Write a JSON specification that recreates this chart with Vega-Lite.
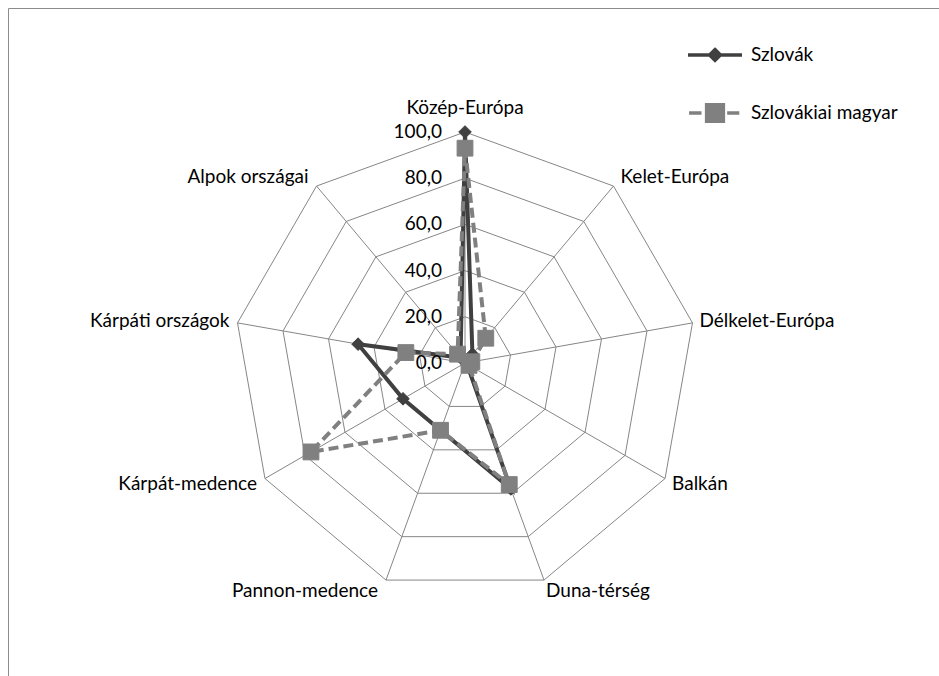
{
  "$schema": "https://vega.github.io/schema/vega-lite/v6.json",
  "width": 933,
  "height": 670,
  "autosize": {"type": "none"},
  "padding": {"left": 8, "top": 8, "right": -2, "bottom": -2},
  "background": "white",
  "config": {
    "view": {"stroke": "#8c8c8c", "strokeWidth": 1},
    "font": "Lato",
    "locale": {"number": {"decimal": ",", "thousands": " ", "grouping": [3], "currency": ["", ""]}},
    "legend": {"symbolStrokeWidth": 3.5}
  },
  "datasets": {
    "cats": [
      {"cat": "Közép-Európa", "i": 0},
      {"cat": "Kelet-Európa", "i": 1},
      {"cat": "Délkelet-Európa", "i": 2},
      {"cat": "Balkán", "i": 3},
      {"cat": "Duna-térség", "i": 4},
      {"cat": "Pannon-medence", "i": 5},
      {"cat": "Kárpát-medence", "i": 6},
      {"cat": "Kárpáti országok", "i": 7},
      {"cat": "Alpok országai", "i": 8}
    ],
    "scores": [
      {"cat": "Közép-Európa", "i": 0, "Szlovák": 100, "Szlovákiai magyar": 93},
      {"cat": "Kelet-Európa", "i": 1, "Szlovák": 5, "Szlovákiai magyar": 14},
      {"cat": "Délkelet-Európa", "i": 2, "Szlovák": 2, "Szlovákiai magyar": 3},
      {"cat": "Balkán", "i": 3, "Szlovák": 1, "Szlovákiai magyar": 2},
      {"cat": "Duna-térség", "i": 4, "Szlovák": 58, "Szlovákiai magyar": 56},
      {"cat": "Pannon-medence", "i": 5, "Szlovák": 31, "Szlovákiai magyar": 31},
      {"cat": "Kárpát-medence", "i": 6, "Szlovák": 31, "Szlovákiai magyar": 77},
      {"cat": "Kárpáti országok", "i": 7, "Szlovák": 47, "Szlovákiai magyar": 26},
      {"cat": "Alpok országai", "i": 8, "Szlovák": 3, "Szlovákiai magyar": 5}
    ],
    "grid": [
      {"ring": 20, "i": 0}, {"ring": 20, "i": 1}, {"ring": 20, "i": 2}, {"ring": 20, "i": 3}, {"ring": 20, "i": 4}, {"ring": 20, "i": 5}, {"ring": 20, "i": 6}, {"ring": 20, "i": 7}, {"ring": 20, "i": 8},
      {"ring": 40, "i": 0}, {"ring": 40, "i": 1}, {"ring": 40, "i": 2}, {"ring": 40, "i": 3}, {"ring": 40, "i": 4}, {"ring": 40, "i": 5}, {"ring": 40, "i": 6}, {"ring": 40, "i": 7}, {"ring": 40, "i": 8},
      {"ring": 60, "i": 0}, {"ring": 60, "i": 1}, {"ring": 60, "i": 2}, {"ring": 60, "i": 3}, {"ring": 60, "i": 4}, {"ring": 60, "i": 5}, {"ring": 60, "i": 6}, {"ring": 60, "i": 7}, {"ring": 60, "i": 8},
      {"ring": 80, "i": 0}, {"ring": 80, "i": 1}, {"ring": 80, "i": 2}, {"ring": 80, "i": 3}, {"ring": 80, "i": 4}, {"ring": 80, "i": 5}, {"ring": 80, "i": 6}, {"ring": 80, "i": 7}, {"ring": 80, "i": 8},
      {"ring": 100, "i": 0}, {"ring": 100, "i": 1}, {"ring": 100, "i": 2}, {"ring": 100, "i": 3}, {"ring": 100, "i": 4}, {"ring": 100, "i": 5}, {"ring": 100, "i": 6}, {"ring": 100, "i": 7}, {"ring": 100, "i": 8}
    ],
    "ticks": [{"v": 0}, {"v": 20}, {"v": 40}, {"v": 60}, {"v": 80}, {"v": 100}]
  },
  "layer": [
    {
      "data": {"name": "grid"},
      "transform": [
        {"calculate": "datum.i*2*PI/9", "as": "a"},
        {"calculate": "datum.ring*sin(datum.a)", "as": "x"},
        {"calculate": "datum.ring*cos(datum.a)", "as": "y"}
      ],
      "mark": {"type": "line", "interpolate": "linear-closed", "stroke": "#868686", "strokeWidth": 1},
      "encoding": {
        "x": {"field": "x", "type": "quantitative", "scale": {"domain": [-197.84, 206.06], "nice": false, "zero": false}, "axis": null},
        "y": {"field": "y", "type": "quantitative", "scale": {"domain": [-136.36, 153.68], "nice": false, "zero": false}, "axis": null},
        "detail": {"field": "ring", "type": "nominal"},
        "order": {"field": "i", "type": "quantitative"}
      }
    },
    {
      "data": {"name": "cats"},
      "transform": [
        {"calculate": "datum.i*2*PI/9", "as": "a"},
        {"calculate": "100*sin(datum.a)", "as": "x"},
        {"calculate": "100*cos(datum.a)", "as": "y"},
        {"calculate": "0", "as": "o"}
      ],
      "mark": {"type": "rule", "stroke": "#868686", "strokeWidth": 1},
      "encoding": {
        "x": {"field": "o", "type": "quantitative", "scale": {"domain": [-197.84, 206.06], "nice": false, "zero": false}, "axis": null},
        "y": {"field": "o", "type": "quantitative", "scale": {"domain": [-136.36, 153.68], "nice": false, "zero": false}, "axis": null},
        "x2": {"field": "x"},
        "y2": {"field": "y"}
      }
    },
    {
      "data": {"name": "scores"},
      "transform": [
        {"fold": ["Szlovák", "Szlovákiai magyar"], "as": ["series", "value"]},
        {"filter": "datum.series === 'Szlovák'"},
        {"calculate": "datum.i*2*PI/9", "as": "a"},
        {"calculate": "datum.value*sin(datum.a)", "as": "x"},
        {"calculate": "datum.value*cos(datum.a)", "as": "y"}
      ],
      "mark": {"type": "line", "interpolate": "linear-closed", "stroke": "#404040", "strokeWidth": 4},
      "encoding": {
        "x": {"field": "x", "type": "quantitative", "scale": {"domain": [-197.84, 206.06], "nice": false, "zero": false}, "axis": null},
        "y": {"field": "y", "type": "quantitative", "scale": {"domain": [-136.36, 153.68], "nice": false, "zero": false}, "axis": null},
        "order": {"field": "i", "type": "quantitative"}
      }
    },
    {
      "data": {"name": "scores"},
      "transform": [
        {"fold": ["Szlovák", "Szlovákiai magyar"], "as": ["series", "value"]},
        {"filter": "datum.series === 'Szlovák'"},
        {"calculate": "datum.i*2*PI/9", "as": "a"},
        {"calculate": "datum.value*sin(datum.a)", "as": "x"},
        {"calculate": "datum.value*cos(datum.a)", "as": "y"}
      ],
      "mark": {"type": "point", "shape": "diamond", "filled": true, "opacity": 1, "fill": "#404040", "stroke": "#404040", "strokeWidth": 1, "size": 160},
      "encoding": {
        "x": {"field": "x", "type": "quantitative", "scale": {"domain": [-197.84, 206.06], "nice": false, "zero": false}, "axis": null},
        "y": {"field": "y", "type": "quantitative", "scale": {"domain": [-136.36, 153.68], "nice": false, "zero": false}, "axis": null}
      }
    },
    {
      "data": {"name": "scores"},
      "transform": [
        {"fold": ["Szlovák", "Szlovákiai magyar"], "as": ["series", "value"]},
        {"filter": "datum.series === 'Szlovákiai magyar'"},
        {"calculate": "datum.i*2*PI/9", "as": "a"},
        {"calculate": "datum.value*sin(datum.a)", "as": "x"},
        {"calculate": "datum.value*cos(datum.a)", "as": "y"}
      ],
      "mark": {"type": "line", "interpolate": "linear-closed", "stroke": "#808080", "strokeWidth": 4, "strokeDash": [10, 5]},
      "encoding": {
        "x": {"field": "x", "type": "quantitative", "scale": {"domain": [-197.84, 206.06], "nice": false, "zero": false}, "axis": null},
        "y": {"field": "y", "type": "quantitative", "scale": {"domain": [-136.36, 153.68], "nice": false, "zero": false}, "axis": null},
        "order": {"field": "i", "type": "quantitative"}
      }
    },
    {
      "data": {"name": "scores"},
      "transform": [
        {"fold": ["Szlovák", "Szlovákiai magyar"], "as": ["series", "value"]},
        {"filter": "datum.series === 'Szlovákiai magyar'"},
        {"calculate": "datum.i*2*PI/9", "as": "a"},
        {"calculate": "datum.value*sin(datum.a)", "as": "x"},
        {"calculate": "datum.value*cos(datum.a)", "as": "y"}
      ],
      "mark": {"type": "point", "shape": "square", "filled": true, "opacity": 1, "fill": "#808080", "stroke": "#808080", "strokeWidth": 1, "size": 250},
      "encoding": {
        "x": {"field": "x", "type": "quantitative", "scale": {"domain": [-197.84, 206.06], "nice": false, "zero": false}, "axis": null},
        "y": {"field": "y", "type": "quantitative", "scale": {"domain": [-136.36, 153.68], "nice": false, "zero": false}, "axis": null}
      }
    },
    {
      "data": {"name": "ticks"},
      "transform": [{"calculate": "0", "as": "o"}],
      "mark": {"type": "text", "align": "right", "baseline": "middle", "dx": -23, "font": "Lato", "fontSize": 19, "fill": "#000000"},
      "encoding": {
        "x": {"field": "o", "type": "quantitative", "scale": {"domain": [-197.84, 206.06], "nice": false, "zero": false}, "axis": null},
        "y": {"field": "v", "type": "quantitative", "scale": {"domain": [-136.36, 153.68], "nice": false, "zero": false}, "axis": null},
        "text": {"field": "v", "type": "quantitative", "format": ".1f"}
      }
    },
    {
      "data": {"name": "cats"},
      "transform": [
        {"filter": "datum.i === 0"},
        {"calculate": "datum.i*2*PI/9", "as": "a"},
        {"calculate": "100*sin(datum.a)", "as": "x"},
        {"calculate": "100*cos(datum.a)", "as": "y"}
      ],
      "mark": {"type": "text", "align": "center", "baseline": "alphabetic", "dy": -18, "font": "Lato", "fontSize": 19, "fill": "#000000"},
      "encoding": {
        "x": {"field": "x", "type": "quantitative", "scale": {"domain": [-197.84, 206.06], "nice": false, "zero": false}, "axis": null},
        "y": {"field": "y", "type": "quantitative", "scale": {"domain": [-136.36, 153.68], "nice": false, "zero": false}, "axis": null},
        "text": {"field": "cat", "type": "nominal"}
      }
    },
    {
      "data": {"name": "cats"},
      "transform": [
        {"filter": "datum.i >= 1 && datum.i <= 3"},
        {"calculate": "datum.i*2*PI/9", "as": "a"},
        {"calculate": "100*sin(datum.a)", "as": "x"},
        {"calculate": "105*cos(datum.a)", "as": "y"}
      ],
      "mark": {"type": "text", "align": "left", "baseline": "middle", "dx": 7, "font": "Lato", "fontSize": 19, "fill": "#000000"},
      "encoding": {
        "x": {"field": "x", "type": "quantitative", "scale": {"domain": [-197.84, 206.06], "nice": false, "zero": false}, "axis": null},
        "y": {"field": "y", "type": "quantitative", "scale": {"domain": [-136.36, 153.68], "nice": false, "zero": false}, "axis": null},
        "text": {"field": "cat", "type": "nominal"}
      }
    },
    {
      "data": {"name": "cats"},
      "transform": [
        {"filter": "datum.i === 4"},
        {"calculate": "datum.i*2*PI/9", "as": "a"},
        {"calculate": "100*sin(datum.a)", "as": "x"},
        {"calculate": "105*cos(datum.a)", "as": "y"}
      ],
      "mark": {"type": "text", "align": "left", "baseline": "middle", "dx": 2, "font": "Lato", "fontSize": 19, "fill": "#000000"},
      "encoding": {
        "x": {"field": "x", "type": "quantitative", "scale": {"domain": [-197.84, 206.06], "nice": false, "zero": false}, "axis": null},
        "y": {"field": "y", "type": "quantitative", "scale": {"domain": [-136.36, 153.68], "nice": false, "zero": false}, "axis": null},
        "text": {"field": "cat", "type": "nominal"}
      }
    },
    {
      "data": {"name": "cats"},
      "transform": [
        {"filter": "datum.i >= 5"},
        {"calculate": "datum.i*2*PI/9", "as": "a"},
        {"calculate": "100*sin(datum.a)", "as": "x"},
        {"calculate": "105*cos(datum.a)", "as": "y"}
      ],
      "mark": {"type": "text", "align": "right", "baseline": "middle", "dx": -8, "font": "Lato", "fontSize": 19, "fill": "#000000"},
      "encoding": {
        "x": {"field": "x", "type": "quantitative", "scale": {"domain": [-197.84, 206.06], "nice": false, "zero": false}, "axis": null},
        "y": {"field": "y", "type": "quantitative", "scale": {"domain": [-136.36, 153.68], "nice": false, "zero": false}, "axis": null},
        "text": {"field": "cat", "type": "nominal"}
      }
    },
    {
      "data": {"name": "scores"},
      "transform": [
        {"fold": ["Szlovák", "Szlovákiai magyar"], "as": ["series", "value"]},
        {"calculate": "datum.i*2*PI/9", "as": "a"},
        {"calculate": "datum.value*sin(datum.a)", "as": "x"},
        {"calculate": "datum.value*cos(datum.a)", "as": "y"},
        {"filter": "datum.value > 1000"}
      ],
      "mark": {"type": "point", "filled": true, "opacity": 1},
      "encoding": {
        "x": {"field": "x", "type": "quantitative", "scale": {"domain": [-197.84, 206.06], "nice": false, "zero": false}, "axis": null},
        "y": {"field": "y", "type": "quantitative", "scale": {"domain": [-136.36, 153.68], "nice": false, "zero": false}, "axis": null},
        "shape": {"field": "series", "type": "nominal",
          "scale": {"domain": ["Szlovák", "Szlovákiai magyar"], "range": ["M-1,0L1,0M0,-0.2L0.2,0L0,0.2L-0.2,0Z", "M-0.96,0L-0.5,0M0.45,0L0.9,0M-0.31,-0.31L0.31,-0.31L0.31,0.31L-0.31,0.31Z"]},
          "legend": {"orient": "none", "legendX": 678, "legendY": 18, "title": null, "padding": 0, "symbolSize": 2916, "symbolStrokeWidth": 3.5, "labelFont": "Lato", "labelFontSize": 19, "labelColor": "#000000", "labelOffset": 7, "rowPadding": 16}},
        "fill": {"field": "series", "type": "nominal",
          "scale": {"domain": ["Szlovák", "Szlovákiai magyar"], "range": ["#404040", "#808080"]},
          "legend": {"orient": "none", "legendX": 678, "legendY": 18, "title": null, "padding": 0, "symbolSize": 2916, "symbolStrokeWidth": 3.5, "labelFont": "Lato", "labelFontSize": 19, "labelColor": "#000000", "labelOffset": 7, "rowPadding": 16}},
        "stroke": {"field": "series", "type": "nominal",
          "scale": {"domain": ["Szlovák", "Szlovákiai magyar"], "range": ["#404040", "#808080"]},
          "legend": {"orient": "none", "legendX": 678, "legendY": 18, "title": null, "padding": 0, "symbolSize": 2916, "symbolStrokeWidth": 3.5, "labelFont": "Lato", "labelFontSize": 19, "labelColor": "#000000", "labelOffset": 7, "rowPadding": 16}}
      }
    }
  ]
}
